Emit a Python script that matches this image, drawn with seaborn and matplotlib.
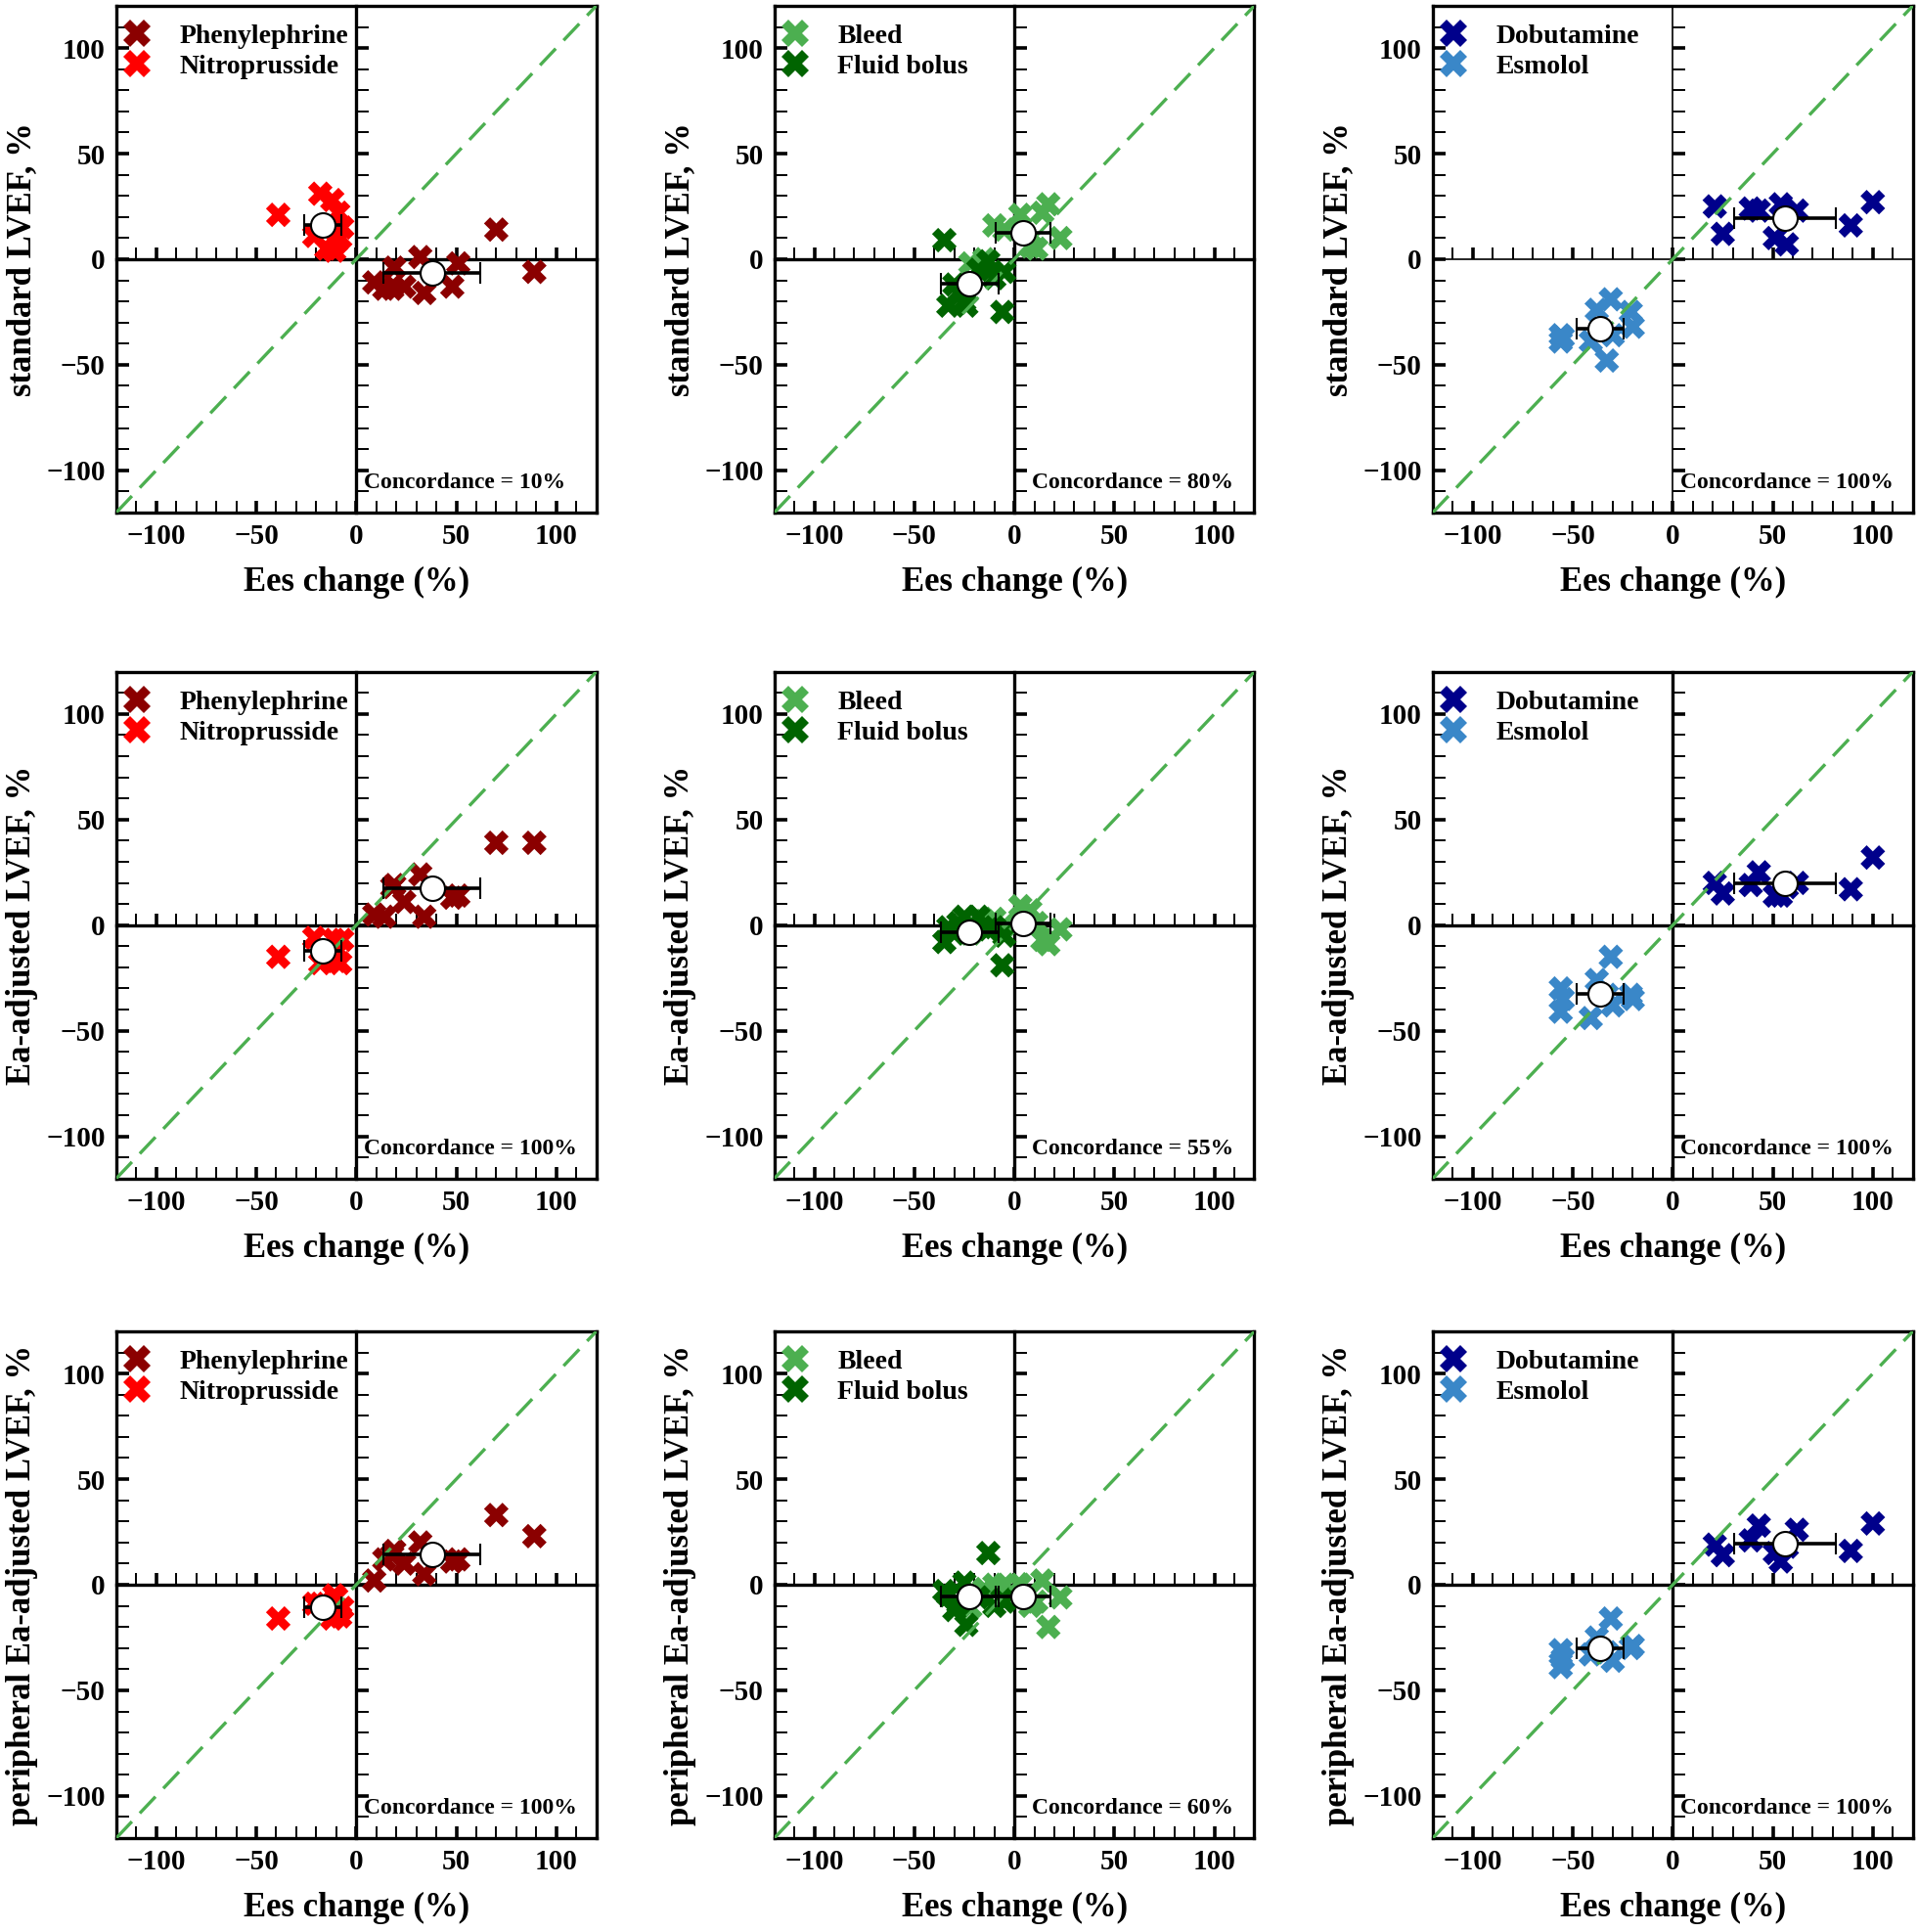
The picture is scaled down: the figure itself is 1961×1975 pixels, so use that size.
import numpy as np
import pandas as pd
import matplotlib.pyplot as plt
import seaborn as sns
from matplotlib.ticker import MultipleLocator

sns.set_style("ticks")
plt.rcParams['font.family'] = ['Liberation Serif', 'DejaVu Serif']
plt.rcParams['font.weight'] = 'bold'
plt.rcParams['axes.labelweight'] = 'bold'
for key in ['text.color', 'axes.labelcolor', 'xtick.color', 'ytick.color', 'axes.edgecolor']:
    plt.rcParams[key] = 'black'

# Ees change (%) per animal, same in every row
phe_ees = [70, 89, 32, 51, 48, 19, 18, 9, 14, 24, 34]
nit_ees = [-39, -21, -18, -15, -12, -11, -10, -9, -8, -7]
ble_ees = [-22, -15, -10, -5, 3, 8, 11, 14, 17, 23]
flu_ees = [-35, -33, -30, -28, -25, -24, -18, -13, -10, -6, -5]
dob_ees = [21, 25, 39, 43, 51, 54, 57, 62, 89, 100]
esm_ees = [-56, -56, -55, -41, -38, -33, -31, -30, -21, -20]

# standard LVEF change (%)
phe_std = [14, -6, 1, -2, -13, -4, -14, -11, -14, -13, -16]
nit_std = [21, 11, 31, 5, 28, 4, 8, 22, 10, 15]
ble_std = [-2, 0, 16, 14, 21, 6, 5, 22, 26, 10]
flu_std = [9, -22, -12, -16, -20, -22, -5, -1, -9, -25, -6]
dob_std = [25, 12, 24, 23, 10, 26, 7, 23, 16, 27]
esm_std = [-36, -39, -37, -39, -24, -48, -19, -36, -25, -32]

# Ea-adjusted LVEF change (%)
phe_ea = [39, 39, 24, 14, 13, 19, 18, 5, 4, 11, 4]
nit_ea = [-15, -6, -18, -12, -15, -7, -17, -12, -18, -7]
ble_ea = [-4, 2, 3, 0, 9, 7, 1, -7, -9, -2]
flu_ea = [-8, -1, -4, 1, 4, -3, 4, -2, -1, -19, -5]
dob_ea = [20, 15, 19, 25, 14, 14, 18, 20, 17, 32]
esm_ea = [-30, -41, -35, -44, -26, -33, -15, -38, -33, -35]

# peripheral Ea-adjusted LVEF change (%)
phe_pea = [33, 23, 20, 12, 11, 16, 14, 2, 12, 10, 5]
nit_pea = [-16, -9, -9, -10, -16, -5, -6, -12, -15, -11]
ble_pea = [-11, -2, 0, 0, 0, -10, -8, 2, -20, -6]
flu_pea = [-3, -5, -12, -9, 1, -19, -6, 15, -10, -7, -8]
dob_pea = [19, 14, 21, 28, 15, 11, 18, 26, 16, 29]
esm_pea = [-31, -39, -35, -33, -25, -32, -16, -36, -30, -29]

# group means and x error bars
drugs = ["Phenylephrine", "Nitroprusside", "Bleed", "Fluid bolus", "Dobutamine", "Esmolol"]
mean_ees = [37.8, -16.7, 4.3, -22.4, 56.1, -36.5]
err_ees = [24.3, 9.2, 13.8, 14.3, 25.6, 11.7]
mean_std = [-6.6, 16.0, 12.7, -11.6, 19.4, -32.8]
mean_ea = [17.6, -12.2, 0.6, -3.5, 20.0, -32.7]
mean_pea = [14.3, -10.8, -5.6, -5.6, 19.5, -30.3]

colors = ["#8B0000", "#FF0000", "#4CAF50", "#006400", "#00008B", "#3A87C8"]
row_labels = ["standard LVEF, %", "Ea-adjusted LVEF, %", "peripheral Ea-adjusted LVEF, %"]
concordance = [[10, 80, 100], [100, 55, 100], [100, 60, 100]]

ees_lists = [phe_ees, nit_ees, ble_ees, flu_ees, dob_ees, esm_ees]
lvef_lists = [
    [phe_std, nit_std, ble_std, flu_std, dob_std, esm_std],
    [phe_ea, nit_ea, ble_ea, flu_ea, dob_ea, esm_ea],
    [phe_pea, nit_pea, ble_pea, flu_pea, dob_pea, esm_pea],
]
mean_lists = [mean_std, mean_ea, mean_pea]

frames = []
for r in range(3):
    for d in range(6):
        frames.append(pd.DataFrame({"row": r, "drug": drugs[d],
                                    "ees": ees_lists[d], "lvef": lvef_lists[r][d]}))
df = pd.concat(frames, ignore_index=True)
palette = dict(zip(drugs, colors))

fig = plt.figure(figsize=(19.61, 19.75), dpi=100)
col_left = [0.0606, 0.4037, 0.747]
row_bottom = [0.7347, 0.390, 0.0486]
w, h = 0.2503, 0.2623
conc_x = [4, 9, 4]

for r in range(3):
    for c in range(3):
        rect = [col_left[c], row_bottom[r], w, h]
        zlw = 1.2 if (r == 0 and c == 2) else 2.4

        # axes carrying the zero lines with their own ticks
        ov = fig.add_axes(rect)
        ov.set_xlim(-120, 120)
        ov.set_ylim(-120, 120)
        for s in ["top", "right"]:
            ov.spines[s].set_visible(False)
        ov.spines["left"].set_position(("data", 0))
        ov.spines["bottom"].set_position(("data", 0))
        ov.spines["left"].set_linewidth(zlw)
        ov.spines["bottom"].set_linewidth(zlw)
        ov.xaxis.set_major_locator(MultipleLocator(50))
        ov.xaxis.set_minor_locator(MultipleLocator(10))
        ov.yaxis.set_major_locator(MultipleLocator(50))
        ov.yaxis.set_minor_locator(MultipleLocator(10))
        ov.tick_params(which="major", direction="in", length=9, width=2.6,
                       labelleft=False, labelbottom=False)
        ov.tick_params(which="minor", direction="in", length=9, width=1.4)
        ov.set_zorder(0)

        ax = fig.add_axes(rect)
        ax.set_zorder(1)
        ax.patch.set_alpha(0)

        pair = drugs[2 * c:2 * c + 2]
        sub = df[(df["row"] == r) & (df["drug"].isin(pair))]
        sns.scatterplot(data=sub, x="ees", y="lvef", hue="drug", hue_order=pair,
                        palette=palette, marker="X", s=330, linewidth=0,
                        ax=ax, zorder=2)

        ax.axline((0, 0), slope=1, color="#4CAF50", lw=2.4, ls=(0, (7, 3.5)), zorder=3)

        for d in (2 * c, 2 * c + 1):
            ax.errorbar(mean_ees[d], mean_lists[r][d], xerr=err_ees[d], fmt="o",
                        mfc="white", mec="black", mew=1.5, ms=18, ecolor="black",
                        elinewidth=2.6, capsize=8, capthick=2.6, zorder=4)

        ax.set_xlim(-120, 120)
        ax.set_ylim(-120, 120)
        ax.xaxis.set_major_locator(MultipleLocator(50))
        ax.xaxis.set_minor_locator(MultipleLocator(10))
        ax.yaxis.set_major_locator(MultipleLocator(50))
        ax.yaxis.set_minor_locator(MultipleLocator(10))
        ax.tick_params(which="major", direction="in", length=9, width=2.6,
                       labelsize=21, pad=8)
        ax.tick_params(which="minor", direction="in", length=9, width=1.4)
        for lab in ax.get_xticklabels() + ax.get_yticklabels():
            lab.set_fontweight("bold")
        for s in ax.spines.values():
            s.set_linewidth(2.4)

        ax.set_xlabel("Ees change (%)", fontsize=25, labelpad=12)
        ax.set_ylabel(row_labels[r], fontsize=25, labelpad=6)

        handles, labels = ax.get_legend_handles_labels()
        ax.legend(handles, labels, loc="upper left", bbox_to_anchor=(0.007, 0.975),
                  frameon=False, prop={"weight": "bold", "size": 20},
                  handlelength=0.9, handletextpad=1.1, labelspacing=0.2,
                  borderaxespad=0, borderpad=0.2, markerscale=1.1)

        ax.text(conc_x[c], -106, f"Concordance = {concordance[r][c]}%", ha="left",
                va="center", fontsize=17, fontweight="bold")

fig.savefig("out.png", dpi=100)
